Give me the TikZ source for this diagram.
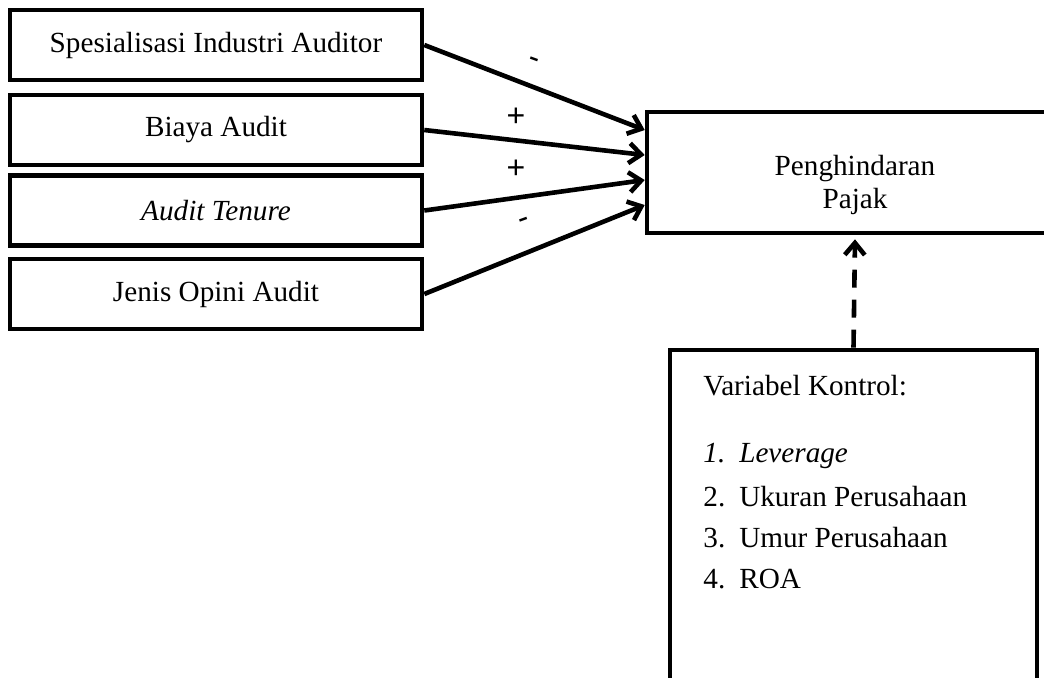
\documentclass[tikz,border=0pt]{standalone}
\usepackage{fontspec}
\setmainfont{Liberation Serif}
\newfontfamily\signfont{Liberation Sans}
\usetikzlibrary{arrows.meta}
\begin{document}
\begin{tikzpicture}[x=0.5pt,y=-0.5pt,
  varbox/.style={draw, line width=2.3pt, minimum width=206pt, minimum height=35pt, inner sep=0pt, font=\fontsize{14.6}{17}\selectfont},
  depbox/.style={draw, line width=2.3pt, minimum width=208pt, minimum height=60.5pt, inner sep=0pt},
  deptext/.style={align=center, inner sep=0pt, font=\fontsize{14.6}{16.5}\selectfont},
  ctrlbox/.style={draw, line width=2.3pt, minimum width=183.5pt, minimum height=175pt, inner sep=0pt},
  arr/.style={line width=2.3pt, -{Straight Barb[length=6pt,width=10pt,line width=2.3pt]}},
  sign/.style={inner sep=0pt, font=\fontsize{16}{18}\signfont},
  lbl/.style={anchor=west, inner sep=0pt, font=\fontsize{14.6}{17}\selectfont}]
\clip (0,0) rectangle (1044,677);
\fill[white] (0,0) rectangle (1044,677);
\node[varbox] (a) at (216,45) {Spesialisasi Industri Auditor};
\node[varbox] (b) at (216,130) {Biaya Audit};
\node[varbox] (c) at (216,210.5) {\itshape Audit Tenure};
\node[varbox] (d) at (216,294) {Jenis Opini Audit};
\node[depbox] (y) at (855,172.5) {};
\node[deptext] (yt) at (855,185) {Penghindaran\\Pajak};
\node[ctrlbox] (k) at (853.5,525) {};
\draw[arr] (a.east) -- ([yshift=21.25pt]y.west);
\draw[arr] (b.east) -- ([yshift=8.75pt]y.west);
\draw[arr] (c.east) -- ([yshift=-3.75pt]y.west);
\draw[arr] (d.east) -- ([yshift=-16.25pt]y.west);
\node[sign, rotate=-20] (s1) at (533,63) {-};
\node[sign] (s2) at (516,117) {+};
\node[sign] (s3) at (516,169) {+};
\node[sign, rotate=20] (s4) at (525,223) {-};
\draw[arr, dash pattern=on 9pt off 6pt] (k.north) -- ([yshift=-2pt]y.south);
\node[lbl] (k0) at (703,386) {Variabel Kontrol:};
\node[lbl] (k1) at (703,456) {\itshape 1.\hspace{7pt}Leverage};
\node[lbl] (k2) at (703,497) {2.\hspace{7pt}Ukuran Perusahaan};
\node[lbl] (k3) at (703,538) {3.\hspace{7pt}Umur Perusahaan};
\node[lbl] (k4) at (703,579) {4.\hspace{7pt}ROA};
\end{tikzpicture}
\end{document}
